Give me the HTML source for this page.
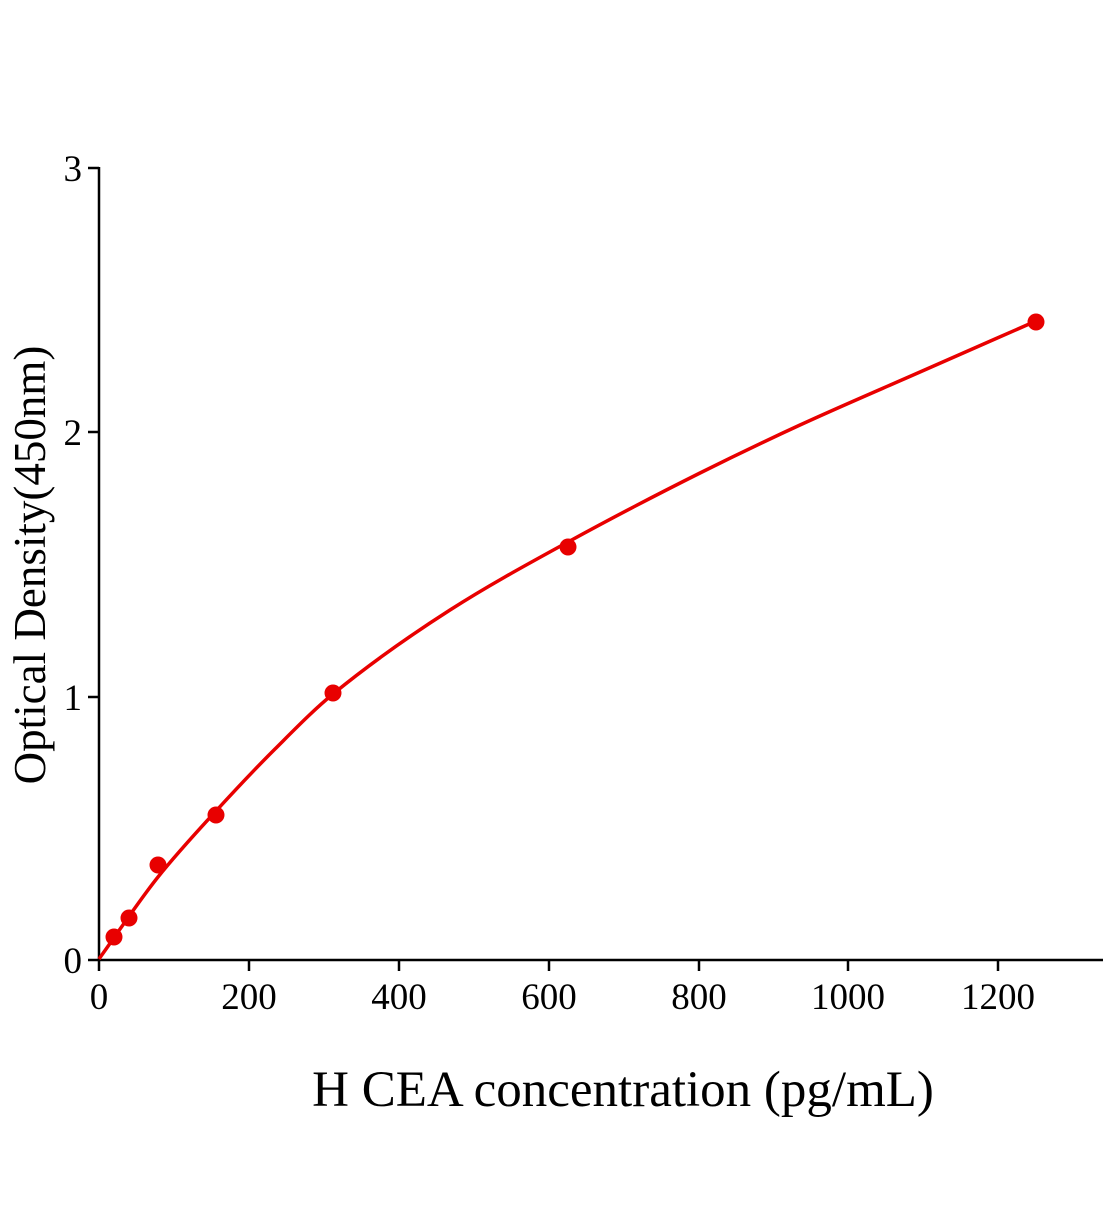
<!DOCTYPE html>
<html><head><style>body{margin:0;background:#fff}</style></head><body>
<svg width="1104" height="1200" xmlns="http://www.w3.org/2000/svg" font-family="Liberation Serif, serif">
<g stroke="#000" stroke-width="2.5" fill="none">
<line x1="99" y1="167" x2="99" y2="961"/>
<line x1="98" y1="960" x2="1103" y2="960"/>
<line x1="88" y1="168" x2="99" y2="168"/>
<line x1="88" y1="432" x2="99" y2="432"/>
<line x1="88" y1="697" x2="99" y2="697"/>
<line x1="88" y1="960" x2="99" y2="960"/>
<line x1="99" y1="960" x2="99" y2="971"/>
<line x1="249" y1="960" x2="249" y2="971"/>
<line x1="399" y1="960" x2="399" y2="971"/>
<line x1="549" y1="960" x2="549" y2="971"/>
<line x1="699" y1="960" x2="699" y2="971"/>
<line x1="848" y1="960" x2="848" y2="971"/>
<line x1="998" y1="960" x2="998" y2="971"/>
</g>
<g font-size="37" text-anchor="end">
<text x="82" y="181">3</text><text x="82" y="445">2</text><text x="82" y="710">1</text><text x="82" y="973">0</text>
</g>
<g font-size="37" text-anchor="middle">
<text x="99" y="1009">0</text><text x="249" y="1009">200</text><text x="399" y="1009">400</text><text x="549" y="1009">600</text><text x="699" y="1009">800</text><text x="848" y="1009">1000</text><text x="998" y="1009">1200</text>
</g>
<text x="623" y="1106" font-size="51" text-anchor="middle">H CEA concentration (pg/mL)</text>
<text transform="translate(45,565) rotate(-90)" font-size="45" text-anchor="middle">Optical Density(450nm)</text>
<path id="c" stroke="#e80000" stroke-width="3.5" fill="none"/>
<g fill="#e80000">
<circle cx="114" cy="937" r="8.5"/><circle cx="129" cy="918" r="8.5"/><circle cx="158" cy="865" r="8.5"/><circle cx="216" cy="815" r="8.5"/><circle cx="333" cy="693" r="8.5"/><circle cx="568" cy="547" r="8.5"/><circle cx="1036" cy="322" r="8.5"/>
</g>
</svg>
<script>
var X=[99,158,216,275,333,450,568,700,800,920,1036],Y=[959,877,811,749,694,610,542,473,425,372,321];
var n=X.length,d=[],m=[];
for(var i=0;i<n-1;i++)d.push((Y[i+1]-Y[i])/(X[i+1]-X[i]));
m[0]=d[0];m[n-1]=d[n-2];
for(var i=1;i<n-1;i++){m[i]=(d[i-1]*d[i]<=0)?0:2/(1/d[i-1]+1/d[i]);}
var p="M"+X[0]+","+Y[0];
for(var i=0;i<n-1;i++){var h=X[i+1]-X[i];
p+=" C"+(X[i]+h/3)+","+(Y[i]+m[i]*h/3)+" "+(X[i+1]-h/3)+","+(Y[i+1]-m[i+1]*h/3)+" "+X[i+1]+","+Y[i+1];}
document.getElementById('c').setAttribute('d',p);
</script>
</body></html>
